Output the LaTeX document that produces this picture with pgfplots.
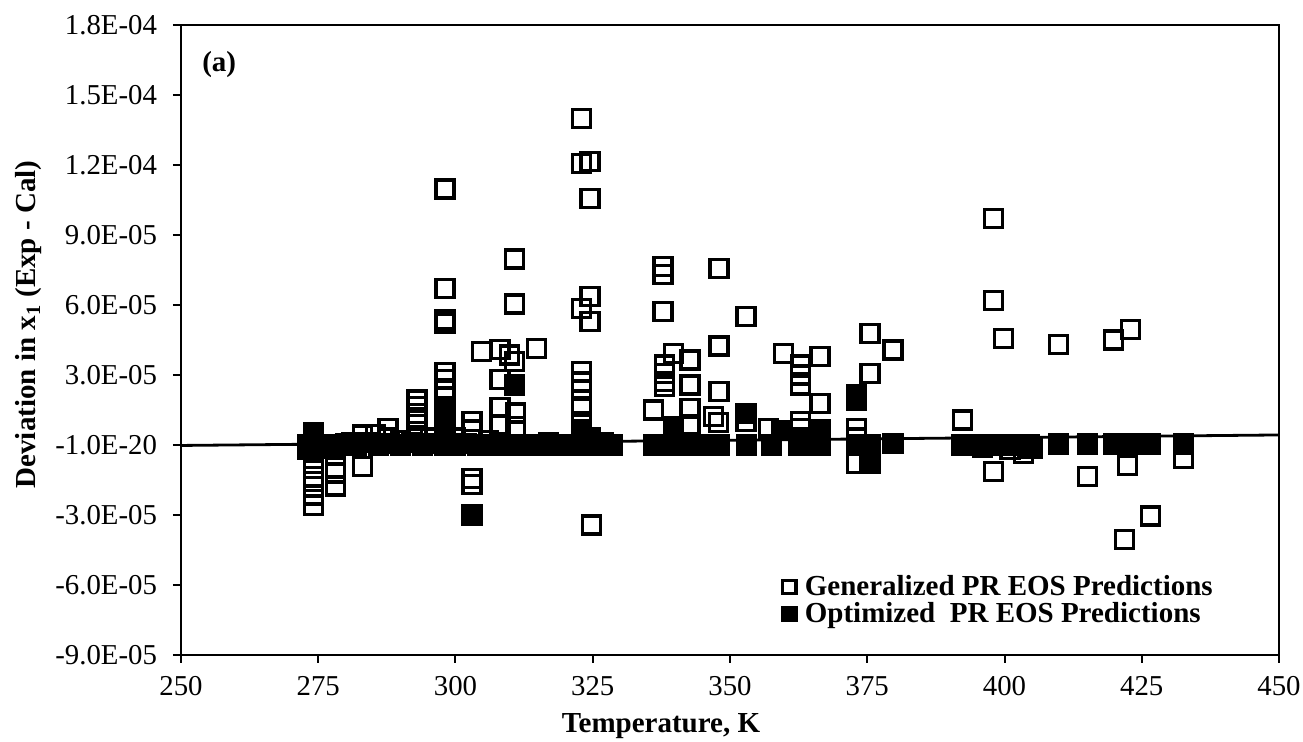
\documentclass[border=0pt]{standalone}
\usepackage{fontspec}
\setmainfont{Liberation Serif}
\usepackage{pgfplots}
\pgfplotsset{compat=1.18}
\pgfplotsset{sqlegend/.style={legend image code/.code={\draw[##1, mark size=3.3pt] plot coordinates {(0.25cm,0cm)}; \path (0cm,0cm) (0.46cm,0cm);}}}

\pgfplotstableread{
T y
273.5 0
274.2 2
274.2 -3
274.2 -10
274.2 -13.6
274.2 -15.7
274.2 -17.9
274.2 -21.4
274.2 -26.1
278.2 -2
278.2 -9.6
278.2 -12
278.2 -17.6
281 1
283 4.3
283 -9.3
285.5 4.5
287.7 7
287.7 3
290 2
293 19.3
293 16.4
293 13.6
293 10.7
293 4
295.5 3
298.1 109.7
298.1 67.2
298.1 53.6
298.1 52.3
298.1 31
298.1 27.9
298.1 24.3
298.1 20.7
300 3
303 10
303 6.4
303 -14.3
303 -17.1
304.8 40
306 2
308.1 41
308.1 27.9
308.1 15.9
308.1 8.6
309.9 38.6
310.8 35.7
310.8 79.7
310.8 60.4
311 13.7
311 7.9
314.8 41.4
317 1
323 140
323 120.7
323 58.6
323 31.4
323 27
323 23.6
323 16.4
323 10
324.5 121.4
324.5 105.7
324.5 63.6
324.5 52.9
324.8 -34.3
327 1
336 15
337.8 76.4
337.8 72.9
337.8 57.1
338 34.3
338 30.7
338 27.1
338 25
339.7 39.3
342.7 36.4
342.7 25.7
342.7 15.7
342.7 8.6
347 12.1
347.9 9.6
348 75.7
348 42.4
348 22.9
352.9 55
352.9 10
357 7.1
359.7 39.3
362.8 34.3
362.8 30
362.8 25.7
362.8 10
362.8 7.1
366.4 37.9
366.4 17.9
373.1 7.1
373.1 3
373.1 -7.9
375.5 47.9
375.5 30.7
379.7 40.7
392.3 10.7
396 -1
398 97
398 62
398 -11.4
399.8 45.7
401 -2
403.4 -3.6
405 -1.4
409.8 42.9
415.1 -13.6
419.8 45
421.8 -40.4
422.4 -8.9
422.9 49.6
426.6 -30.4
432.6 -5.7
}\generalized

\pgfplotstableread{
T y
273 0
273 -2
274.2 5.5
274.2 2
276 0
276 -1.5
278.2 0
278.2 -1
280 0.5
282 0
284 1
286 0
288 0.5
290 0
292 1
294 0
296 0.5
298.1 15
298.1 10.7
298.1 6.4
298.1 2.1
298.1 0
300 0
302 0.5
303 -30
304 0
306 0
308 0
310 0
310.8 25.7
312 0
314 0
316 0
318 0
320 0
322 0
323 6.4
323 2
324.5 3
325 0
326.5 0
328.5 0
336 0
338 0
339.7 7.9
340 0
342 0
344 0
346 0
348 0
352.9 13.6
353 0
357.6 0
359.4 6.1
362.5 0
362.8 3
364.5 0
366.4 6.4
366.4 0
373.1 21.4
373.1 19.3
373.1 0
375.5 0
375.5 -7.9
379.7 0.7
392.2 0
394 0
396 0
398 0
400 0
402 0
404.6 0
409.8 0.4
415.1 0.4
419.8 0.4
422.9 0.4
426.6 0.4
432.6 0.4
}\optimized

\begin{document}
\begin{tikzpicture}
\begin{axis}[
  scale only axis, width=549pt, height=315pt,
  xmin=250, xmax=450, ymin=-90, ymax=180,
  xtick={250,275,...,450},
  ytick={-90,-60,-30,0,30,60,90,120,150,180},
  yticklabels={-9.0E-05,-6.0E-05,-3.0E-05,-1.0E-20,3.0E-05,6.0E-05,9.0E-05,1.2E-04,1.5E-04,1.8E-04},
  tick align=outside, tick pos=left, major tick length=4pt,
  tick style={black, line width=1pt},
  axis line style={black, line width=1pt},
  ticklabel style={font=\fontsize{14.4}{16}\selectfont},
  yticklabel style={xshift=-4.5pt},
  xticklabel style={yshift=-3pt, /pgf/number format/1000 sep={}},
  /pgf/number format/assume math mode=true,
  xlabel={\textbf{Temperature, K}},
  ylabel={\textbf{Deviation in x\textsubscript{1} (Exp - Cal)}},
  label style={font=\fontsize{14.5}{17}\selectfont},
  ylabel style={at={(rel axis cs:-0.1385,0.5246)}, anchor=center},
  xlabel style={xshift=-34.5pt},
  xlabel shift=2pt,
  legend style={draw=none, fill=none, at={(axis cs:358.1,-54.5)}, anchor=north west,
    font=\bfseries\fontsize{14.5}{16}\selectfont, row sep=-1pt, inner sep=0pt,
    nodes={inner sep=1.5pt}},
  legend cell align=left,
]
\addplot[black, line width=1.4pt, forget plot] coordinates {(250,-0.2) (450,4.3)};
\addplot[only marks, mark=square, mark size=4.5pt,
  mark options={line width=1.6pt, draw=black, fill=none}, sqlegend] table[x=T,y=y] {\generalized};
\addplot[only marks, mark=square*, mark size=4.5pt,
  mark options={line width=1.6pt, draw=black, fill=black}, sqlegend] table[x=T,y=y] {\optimized};
\legend{Generalized PR EOS Predictions, Optimized\ \ PR EOS Predictions}
\node[anchor=west, font=\bfseries\fontsize{14.5}{17}\selectfont, inner sep=0pt] at (axis cs:253.8,163) {(a)};
\end{axis}
\pgfresetboundingbox
\path[use as bounding box] ([xshift=-90.5pt,yshift=-43.5pt]current axis.south west) rectangle ([xshift=12pt,yshift=12.5pt]current axis.north east);
\end{tikzpicture}
\end{document}
